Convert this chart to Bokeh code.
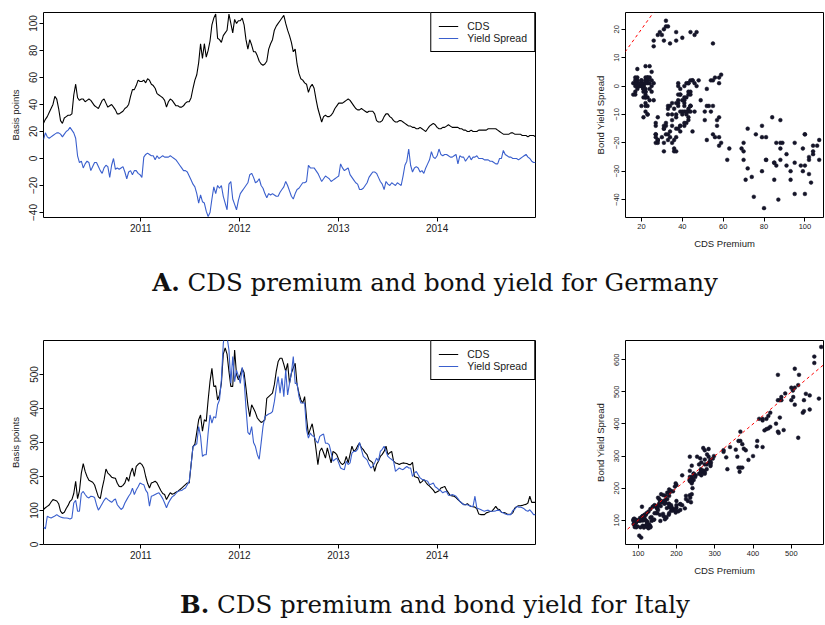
import pandas as pd
from bokeh.plotting import figure
from bokeh.models import FixedTicker, DatetimeTickFormatter, Range1d, Slope, Div
from bokeh.layouts import column, row
from bokeh.embed import file_html
from bokeh.resources import INLINE

# ---------------- data (weekly observations, 2010-01-06 .. 2014-12-31) ----------------
START = "2010-01-06"
year_labels = ["2011", "2012", "2013", "2014"]

de_cds = [26, 29, 31, 34, 37, 40, 46, 44, 37, 28,
          26, 30, 31, 32, 32, 33, 47, 55, 45, 43,
          44, 44, 42, 43, 44, 43, 41, 39, 38, 37,
          40, 43, 44, 41, 38, 39, 40, 38, 36, 33,
          33, 34, 35, 37, 38, 40, 46, 51, 51, 54,
          58, 57, 57, 58, 56, 59, 58, 55, 54, 52,
          48, 47, 46, 45, 43, 38, 42, 44, 43, 41,
          39, 39, 38, 38, 39, 41, 42, 42, 45, 52,
          58, 62, 71, 85, 74, 85, 75, 80, 87, 99,
          104, 107, 89, 88, 86, 91, 93, 95, 107, 100,
          93, 103, 100, 102, 102, 104, 99, 88, 81, 88,
          84, 79, 79, 76, 72, 70, 69, 70, 72, 81,
          85, 88, 95, 98, 100, 102, 104, 106, 100, 95,
          91, 86, 79, 81, 70, 63, 59, 58, 56, 55,
          49, 53, 55, 52, 44, 37, 32, 27, 31, 32,
          31, 31, 32, 34, 37, 39, 41, 41, 41, 42,
          43, 44, 43, 41, 39, 37, 36, 36, 37, 36,
          35, 34, 35, 35, 35, 33, 28, 27, 27, 28,
          31, 33, 33, 31, 30, 28, 27, 27, 28, 28,
          27, 26, 25, 24, 24, 23, 23, 22, 22, 23,
          22, 21, 20, 22, 24, 25, 26, 25, 23, 22,
          22, 23, 23, 24, 25, 24, 23, 23, 23, 23,
          22, 22, 21, 21, 20, 20, 21, 20, 20, 20,
          21, 21, 21, 21, 21, 22, 22, 22, 22, 22,
          21, 20, 19, 18, 18, 18, 18, 19, 19, 18,
          18, 18, 18, 17, 17, 17, 16, 17, 17, 17,
          16]

de_ys = [14, 19, 16, 15, 16, 17, 18, 19, 19, 18,
         16, 18, 20, 21, 23, 21, 19, 15, 2, -3,
         -2, -7, -4, -2, -3, -9, -6, -3, -3, -6,
         -9, -11, -7, -5, -6, -14, -5, 0, -8, -7,
         -8, -7, -6, -10, -15, -10, -9, -12, -9, -9,
         -11, -12, -14, 1, 3, 4, 3, 2, 2, -1,
         2, 0, 1, 2, 1, 1, 1, 2, 1, 0,
         -1, -3, -5, -7, -9, -9, -10, -13, -16, -19,
         -21, -26, -33, -27, -32, -33, -39, -43, -40, -30,
         -21, -26, -20, -22, -20, -28, -33, -38, -19, -17,
         -30, -34, -38, -31, -26, -24, -22, -20, -18, -12,
         -11, -14, -18, -17, -15, -20, -22, -26, -29, -26,
         -27, -26, -27, -28, -28, -25, -23, -21, -17, -20,
         -24, -28, -30, -26, -23, -22, -20, -18, -18, -17,
         -5, -7, -7, -7, -9, -11, -14, -17, -15, -13,
         -14, -15, -17, -16, -15, -14, -13, -4, -7, -9,
         -8, -7, -12, -14, -16, -18, -19, -23, -23, -22,
         -20, -18, -14, -12, -10, -10, -11, -14, -17, -19,
         -23, -17, -19, -20, -18, -19, -20, -18, -19, -20,
         -13, -5, -2, 7, -5, -10, -7, -6, -7, -10,
         -9, -11, -7, -4, -1, 5, 1, 0, 2, 7,
         3, 2, 3, 3, 2, 1, 1, 2, 3, -4,
         2, 1, 1, -2, 0, 2, -1, 1, 1, 2,
         0, 0, 0, -1, -1, -1, -2, -2, -3, -4,
         -4, 0, 0, 6, 3, 2, 1, 1, 0, 0,
         0, -1, 0, 1, 2, 3, 1, 0, -2, -3,
         -3]

it_cds = [103, 108, 112, 116, 125, 132, 130, 128, 120, 98,
          91, 95, 106, 115, 127, 132, 150, 186, 135, 158,
          210, 238, 215, 200, 189, 186, 183, 175, 157, 140,
          135, 165, 190, 222, 210, 205, 198, 196, 195, 180,
          171, 170, 174, 181, 198, 186, 210, 225, 200, 230,
          236, 240, 235, 225, 200, 180, 166, 181, 183, 186,
          181, 170, 159, 150, 147, 132, 143, 152, 148, 150,
          154, 157, 161, 166, 171, 176, 181, 181, 235, 288,
          295, 330, 367, 381, 333, 367, 362, 425, 480, 518,
          465, 467, 425, 440, 474, 560, 578, 560, 509, 465,
          465, 572, 500, 484, 500, 518, 505, 460, 410, 376,
          411, 400, 388, 372, 365, 359, 362, 367, 430, 435,
          440, 445, 470, 509, 538, 548, 548, 530, 509, 533,
          474, 504, 520, 533, 470, 445, 425, 416, 435, 372,
          323, 340, 355, 323, 280, 235, 274, 284, 270, 254,
          284, 262, 240, 274, 270, 264, 250, 240, 235, 240,
          259, 240, 265, 289, 274, 279, 290, 298, 285, 279,
          270, 264, 249, 245, 240, 215, 235, 245, 259, 265,
          274, 289, 264, 270, 274, 245, 240, 238, 235, 238,
          240, 239, 238, 235, 235, 242, 200, 198, 196, 181,
          185, 191, 183, 176, 172, 166, 160, 152, 155, 158,
          166, 168, 171, 160, 152, 144, 143, 142, 138, 132,
          127, 122, 118, 117, 120, 115, 112, 111, 110, 105,
          90, 88, 88, 88, 93, 95, 97, 98, 105, 112,
          104, 103, 95, 94, 93, 90, 88, 90, 93, 107,
          111, 114, 114, 115, 117, 118, 122, 142, 124, 124,
          124]

it_ys = [52, 46, 83, 80, 78, 81, 84, 88, 84, 81,
         79, 78, 78, 77, 75, 78, 122, 130, 98, 98,
         150, 156, 147, 140, 137, 142, 141, 138, 117, 101,
         110, 120, 130, 137, 132, 128, 124, 130, 134, 117,
         110, 103, 108, 122, 132, 142, 150, 166, 147, 160,
         170, 181, 178, 176, 160, 152, 113, 142, 144, 147,
         150, 152, 144, 135, 122, 108, 122, 132, 140, 144,
         150, 156, 158, 159, 163, 166, 176, 186, 235, 288,
         292, 296, 347, 318, 259, 264, 264, 328, 381, 357,
         376, 372, 411, 425, 484, 590, 640, 610, 572, 474,
         553, 479, 513, 495, 474, 521, 484, 401, 330, 323,
         347, 300, 288, 264, 251, 298, 347, 376, 380, 384,
         386, 391, 420, 460, 494, 445, 489, 435, 513, 440,
         474, 504, 553, 474, 474, 435, 416, 416, 416, 337,
         313, 328, 320, 318, 305, 298, 318, 322, 325, 298,
         298, 293, 270, 245, 250, 254, 240, 225, 222, 220,
         245, 235, 240, 269, 274, 274, 280, 300, 280, 259,
         254, 249, 235, 225, 230, 240, 254, 245, 274, 280,
         289, 274, 259, 254, 250, 245, 215, 220, 225, 222,
         220, 225, 230, 225, 225, 200, 210, 215, 205, 196,
         192, 190, 188, 186, 176, 178, 181, 170, 166, 161,
         158, 152, 155, 156, 145, 144, 147, 145, 142, 135,
         127, 122, 117, 117, 117, 115, 112, 112, 142, 107,
         105, 103, 100, 98, 100, 101, 98, 98, 98, 99,
         101, 100, 95, 93, 90, 88, 88, 88, 100, 103,
         112, 110, 110, 108, 105, 100, 98, 102, 95, 88,
         88]

de_ts_yticks = [-40, -20, 0, 20, 40, 60, 80, 100]
it_ts_yticks = [0, 100, 200, 300, 400, 500]
de_sc_xticks = [20, 40, 60, 80, 100]
de_sc_yticks = [-40, -30, -20, -10, 0, 10, 20]
it_sc_xticks = [100, 200, 300, 400, 500]
it_sc_yticks = [100, 200, 300, 400, 500, 600]

caption_a = ("A.", "CDS premium and bond yield for Germany")
caption_b = ("B.", "CDS premium and bond yield for Italy")

# ---------------- styling helpers ----------------
SANS = "Liberation Sans"
BLUE = "#3A5FCD"
DOT = "#141428"


def style_axes(p, tick_size, label_size, label_standoff):
    p.xgrid.visible = False
    p.ygrid.visible = False
    p.outline_line_color = "black"
    p.outline_line_alpha = 1.0
    p.outline_line_width = 1
    p.background_fill_color = "white"
    p.border_fill_color = "white"
    for ax in (p.xaxis[0], p.yaxis[0]):
        ax.axis_line_color = None
        ax.major_tick_out = 4
        ax.major_tick_in = 0
        ax.minor_tick_line_color = None
        ax.major_tick_line_color = "black"
        ax.major_label_text_font = SANS
        ax.major_label_text_font_size = tick_size
        ax.major_label_text_color = "#1a1a1a"
        ax.axis_label_text_font = SANS
        ax.axis_label_text_font_size = label_size
        ax.axis_label_text_font_style = "normal"
        ax.axis_label_text_color = "#1a1a1a"
        ax.major_label_standoff = 2
        ax.axis_label_standoff = label_standoff
    p.yaxis[0].major_label_orientation = "parallel"


def ts_fig(cds, ys, ylo, yhi, yticks, top, bottom, fh):
    x_c = pd.date_range(START, periods=len(cds), freq="7D")
    x_y = pd.date_range(START, periods=len(ys), freq="7D")
    p = figure(frame_width=492, frame_height=fh, x_axis_type="datetime",
               x_range=Range1d(x_c[0], x_c[-1]), y_range=Range1d(ylo, yhi),
               output_backend="svg", toolbar_location=None,
               min_border_left=43, min_border_right=45,
               min_border_top=top, min_border_bottom=bottom)
    p.line(x_c, cds, line_color="black", line_width=1.1, legend_label="CDS")
    p.line(x_y, ys, line_color=BLUE, line_width=1.1, legend_label="Yield Spread")
    p.xaxis.ticker = FixedTicker(ticks=[pd.Timestamp(y + "-01-01").value / 1e6 for y in year_labels])
    p.xaxis.formatter = DatetimeTickFormatter(years="%Y", months="%Y", days="%Y",
                                              hours="%Y", hourmin="%Y")
    p.yaxis.ticker = FixedTicker(ticks=yticks)
    p.yaxis.axis_label = "Basis points"
    style_axes(p, "10px", "9.5px", 6)
    lg = p.legend[0]
    lg.location = "top_right"
    lg.margin = 0
    lg.padding = 7
    lg.spacing = 0
    lg.border_line_color = "black"
    lg.border_line_width = 1
    lg.border_line_alpha = 1
    lg.background_fill_color = "white"
    lg.background_fill_alpha = 1
    lg.glyph_width = 20
    lg.glyph_height = 12
    lg.label_height = 12
    lg.label_standoff = 9
    lg.label_text_font = SANS
    lg.label_text_font_size = "10.5px"
    lg.label_text_color = "#1a1a1a"
    return p


def sc_fig(xv, yv, xr, yr, xt, yt, top, bottom, fh):
    n = min(len(xv), len(yv))
    p = figure(frame_width=198, frame_height=fh,
               x_range=Range1d(*xr), y_range=Range1d(*yr),
               output_backend="svg", toolbar_location=None,
               min_border_left=45, min_border_right=1,
               min_border_top=top, min_border_bottom=bottom)
    p.add_layout(Slope(gradient=1, y_intercept=0, line_color="red",
                       line_dash="3 3", line_width=1))
    p.scatter(xv[:n], yv[:n], size=3.8, fill_color=DOT, line_color=DOT, line_width=0.5)
    p.xaxis.ticker = FixedTicker(ticks=xt)
    p.yaxis.ticker = FixedTicker(ticks=yt)
    p.xaxis.axis_label = "CDS Premium"
    p.yaxis.axis_label = "Bond Yield Spread"
    style_axes(p, "7.5px", "9.5px", 6)
    return p


def caption(parts, height, line_h, pad_top):
    html = ('<div style="width:778px;margin-left:46px;text-align:center;'
            'font-family:\'DejaVu Serif\';font-size:24.5px;color:#111;'
            f'line-height:{line_h}px;padding-top:{pad_top}px;white-space:nowrap;">'
            f'<b>{parts[0]}</b> {parts[1]}</div>')
    return Div(text=html, width=824, height=height, margin=0)


p1 = ts_fig(de_cds, de_ys, -43.7, 108.1, de_ts_yticks, 12, 41, 205)
p2 = sc_fig(de_cds, de_ys, (12.2, 109.1), (-46.3, 25.9), de_sc_xticks, de_sc_yticks, 12, 41, 205)
p3 = ts_fig(it_cds, it_ys, 0, 600, it_ts_yticks, 22, 34, 204)
p4 = sc_fig(it_cds, it_ys, (67, 584), (24.4, 660), it_sc_xticks, it_sc_yticks, 22, 34, 204)

capA = caption(caption_a, 60, 50, 0)
capB = caption(caption_b, 39, 24, 15)

layout = column(row(p1, p2, spacing=0), capA, row(p3, p4, spacing=0), capB, spacing=0)

with open("out.html", "w") as f:
    f.write(file_html(layout, INLINE))
